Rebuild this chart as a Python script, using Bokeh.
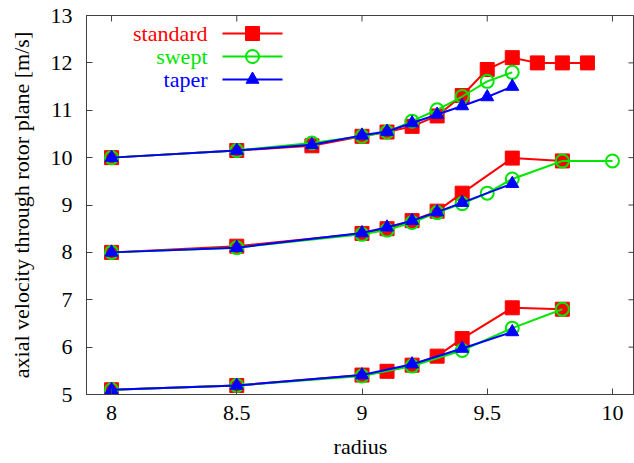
from bokeh.plotting import figure
from bokeh.models import FixedTicker, Range1d
from bokeh.embed import file_html
from bokeh.resources import INLINE
from bokeh.core.properties import value

# --- data: axial velocity [m/s] vs radius, three load cases per blade ---
standard_top_x = [8.0, 8.5, 8.8, 9.0, 9.1, 9.2, 9.3, 9.4, 9.5, 9.6, 9.7, 9.8, 9.9]
standard_top_y = [10.0, 10.15, 10.25, 10.45, 10.54, 10.66, 10.88, 11.31, 11.86, 12.11, 12.0, 12.0, 12.0]
swept_top_x = [8.0, 8.5, 8.8, 9.0, 9.1, 9.2, 9.3, 9.4, 9.5, 9.6]
swept_top_y = [10.0, 10.15, 10.31, 10.45, 10.54, 10.77, 11.01, 11.29, 11.61, 11.80]
taper_top_x = [8.0, 8.5, 8.8, 9.0, 9.1, 9.2, 9.3, 9.4, 9.5, 9.6]
taper_top_y = [10.0, 10.15, 10.27, 10.47, 10.55, 10.73, 10.91, 11.09, 11.28, 11.50]

standard_mid_x = [8.0, 8.5, 9.0, 9.1, 9.2, 9.3, 9.4, 9.6, 9.8]
standard_mid_y = [8.0, 8.13, 8.40, 8.50, 8.67, 8.87, 9.25, 9.99, 9.93]
swept_mid_x = [8.0, 8.5, 9.0, 9.1, 9.2, 9.3, 9.4, 9.5, 9.6, 9.8, 10.0]
swept_mid_y = [8.0, 8.10, 8.38, 8.47, 8.63, 8.84, 9.03, 9.25, 9.55, 9.93, 9.93]
taper_mid_x = [8.0, 8.5, 9.0, 9.1, 9.2, 9.3, 9.4, 9.6]
taper_mid_y = [8.0, 8.10, 8.41, 8.53, 8.67, 8.85, 9.05, 9.45]

standard_bot_x = [8.0, 8.5, 9.0, 9.1, 9.2, 9.3, 9.4, 9.6, 9.8]
standard_bot_y = [5.10, 5.19, 5.41, 5.49, 5.62, 5.81, 6.18, 6.83, 6.80]
swept_bot_x = [8.0, 8.5, 9.0, 9.2, 9.4, 9.6, 9.8]
swept_bot_y = [5.10, 5.19, 5.39, 5.60, 5.93, 6.40, 6.80]
taper_bot_x = [8.0, 8.5, 9.0, 9.2, 9.4, 9.6]
taper_bot_y = [5.10, 5.19, 5.41, 5.64, 5.97, 6.32]

x_ticks = [8, 8.5, 9, 9.5, 10]
x_tick_labels = ["8", "8.5", "9", "9.5", "10"]
y_ticks = [5, 6, 7, 8, 9, 10, 11, 12, 13]

series_names = ["standard", "swept", "taper"]
series_colors = ["#ff0000", "#00e600", "#0000ff"]

FONT = "Liberation Serif"
FS = "22px"
AXIS_COLOR = "#404040"
TICK = 6  # inward tick length, px

X0, X1 = 7.9, 10.088
Y0, Y1 = 5.0, 13.0
W, H = 634, 463
LEFT, TOP, BOTTOM, RIGHT = 86, 15, 69, 0

p = figure(width=W, height=H, output_backend="svg", toolbar_location=None,
           x_range=Range1d(X0, X1), y_range=Range1d(Y0, Y1),
           min_border_left=LEFT, min_border_top=TOP,
           min_border_bottom=BOTTOM, min_border_right=RIGHT)
p.grid.visible = False
p.outline_line_color = AXIS_COLOR
p.background_fill_color = "white"
p.border_fill_color = "white"

p.xaxis.ticker = FixedTicker(ticks=x_ticks)
p.xaxis.major_label_overrides = {t: s for t, s in zip(x_ticks, x_tick_labels)}
p.yaxis.ticker = FixedTicker(ticks=y_ticks)
p.xaxis.axis_label = "radius"
p.yaxis.axis_label = "axial velocity through rotor plane [m/s]"

for ax in (p.xaxis[0], p.yaxis[0]):
    ax.major_tick_in = TICK
    ax.major_tick_out = 0
    ax.minor_tick_in = 0
    ax.minor_tick_out = 0
    ax.axis_line_color = AXIS_COLOR
    ax.major_tick_line_color = AXIS_COLOR
    ax.major_label_text_font = FONT
    ax.major_label_text_font_size = FS
    ax.major_label_text_color = "black"
    ax.axis_label_text_font = FONT
    ax.axis_label_text_font_size = FS
    ax.axis_label_text_font_style = "normal"
    ax.axis_label_text_color = "black"
p.xaxis.major_label_standoff = 11
p.xaxis.axis_label_standoff = 11
p.yaxis.major_label_standoff = 14
p.yaxis.axis_label_standoff = 14

# pixel <-> data helpers for the plotting frame
fw = W - LEFT - RIGHT
fh = H - TOP - BOTTOM
dx_per_px = (X1 - X0) / fw
dy_per_px = (Y1 - Y0) / fh


def px_x(px):
    return X0 + (px - LEFT) * dx_per_px


def px_y(py):
    return Y1 - (py - TOP) * dy_per_px


# mirrored ticks along the top and right edges of the frame
p.segment(x0=x_ticks, y0=[Y1] * len(x_ticks), x1=x_ticks,
          y1=[Y1 - TICK * dy_per_px] * len(x_ticks), line_color=AXIS_COLOR, line_width=1)
p.segment(x0=[X1] * len(y_ticks), y0=y_ticks, x1=[X1 - TICK * dx_per_px] * len(y_ticks),
          y1=y_ticks, line_color=AXIS_COLOR, line_width=1)

groups = [
    (standard_top_x, standard_top_y, swept_top_x, swept_top_y, taper_top_x, taper_top_y),
    (standard_mid_x, standard_mid_y, swept_mid_x, swept_mid_y, taper_mid_x, taper_mid_y),
    (standard_bot_x, standard_bot_y, swept_bot_x, swept_bot_y, taper_bot_x, taper_bot_y),
]


def markers(kind, xs, ys, color):
    if kind == "standard":
        p.scatter(xs, ys, marker="square", size=14, fill_color=color, line_color=color)
    elif kind == "swept":
        p.scatter(xs, ys, marker="circle", size=13, fill_color=None, line_color=color, line_width=2)
    else:
        p.scatter(xs, ys, marker="triangle", size=13, fill_color=color, line_color=color)


for k, (name, color) in enumerate(zip(series_names, series_colors)):
    for g in groups:
        xs, ys = g[2 * k], g[2 * k + 1]
        p.line(xs, ys, line_color=color, line_width=2)
        markers(name, xs, ys, color)

# key: right-aligned names followed by a line sample with one marker
key_rows = [33, 56, 79]
for name, color, row in zip(series_names, series_colors, key_rows):
    p.text(x=[px_x(207)], y=[px_y(row)], text=[name], text_align="right",
           text_baseline="middle", text_color=color, text_font=value(FONT),
           text_font_size=FS)
    p.line([px_x(222), px_x(282)], [px_y(row), px_y(row)], line_color=color, line_width=2)
    markers(name, [px_x(252)], [px_y(row)], color)

html = file_html(p, INLINE)
open("out.html", "w").write(html)
